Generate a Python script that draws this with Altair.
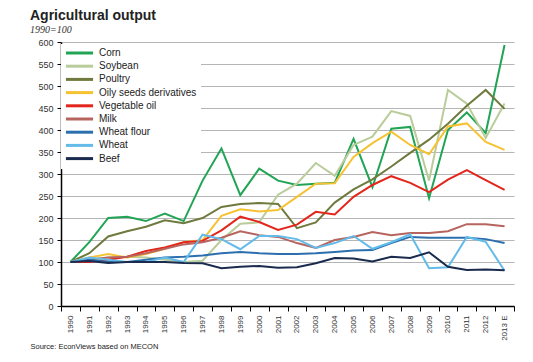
import altair as alt
import pandas as pd

years = ["1990", "1991", "1992", "1993", "1994", "1995", "1996", "1997", "1998", "1999",
         "2000", "2001", "2002", "2003", "2004", "2005", "2006", "2007", "2008", "2009",
         "2010", "2011", "2012", "2013 E"]

series_names = ["Corn", "Soybean", "Poultry", "Oily seeds derivatives", "Vegetable oil",
                "Milk", "Wheat flour", "Wheat", "Beef"]
series_colors = ["#22a455", "#b9cc9a", "#6e7a3e", "#f6c232", "#e3261c",
                 "#b8645e", "#2c6fae", "#62bbe8", "#1a2b4e"]

corn = [100, 145, 200, 203, 193, 210, 193, 285, 358, 252, 312, 285, 275, 278, 280, 380,
        270, 403, 407, 245, 400, 440, 393, 593]
soybean = [100, 105, 110, 112, 110, 105, 100, 103, 150, 187, 190, 253, 278, 325, 296, 366,
           385, 443, 432, 285, 491, 460, 382, 460]
poultry = [100, 120, 158, 170, 180, 195, 188, 200, 225, 232, 234, 232, 177, 190, 235, 265,
           288, 317, 348, 378, 414, 455, 491, 448]
oily_seeds = [100, 110, 118, 110, 118, 130, 145, 150, 205, 220, 215, 218, 248, 278, 279, 339,
              370, 396, 366, 345, 408, 415, 373, 355]
vegetable_oil = [100, 100, 105, 112, 125, 133, 145, 148, 172, 203, 191, 173, 185, 214, 208, 248,
                 275, 295, 280, 259, 287, 309, 286, 264]
milk = [100, 105, 110, 112, 120, 130, 140, 145, 155, 170, 161, 157, 143, 132, 150, 157,
        168, 161, 166, 166, 170, 186, 186, 181]
wheat_flour = [100, 105, 100, 100, 105, 110, 112, 115, 120, 123, 120, 118, 118, 120, 123, 126,
               127, 143, 157, 155, 155, 155, 152, 143]
wheat = [100, 110, 105, 100, 100, 110, 100, 162, 152, 129, 159, 159, 152, 132, 143, 159,
         130, 145, 163, 86, 88, 157, 146, 80]
beef = [100, 102, 98, 100, 100, 100, 98, 97, 86, 89, 91, 87, 88, 97, 109, 108,
        101, 112, 109, 122, 89, 82, 83, 81]

all_series = [corn, soybean, poultry, oily_seeds, vegetable_oil, milk, wheat_flour, wheat, beef]

rows = []
for name, vals in zip(series_names, all_series):
    for y, v in zip(years, vals):
        rows.append({"year": y, "series": name, "value": v})
df = pd.DataFrame(rows)

FONT = "Liberation Sans"

chart = alt.Chart(df).mark_line(strokeWidth=2).encode(
    x=alt.X("year:O", sort=years, bandPosition=0.5,
            scale=alt.Scale(type="band", paddingInner=0, paddingOuter=0),
            axis=alt.Axis(title="Source: EconViews based on MECON", labelAngle=-90,
                          labelFont=FONT, labelFontSize=8, labelColor="#333333",
                          labelPadding=4, tickBand="extent", tickColor="#000000",
                          tickSize=5, domainColor="#000000", domainWidth=1.5,
                          grid=False, titleFont=FONT, titleFontSize=7.5,
                          titleFontWeight="normal", titleColor="#222222",
                          titleAnchor="start", titleAlign="left", titleX=-31, titleY=42,
                          titleBaseline="alphabetic")),
    y=alt.Y("value:Q", scale=alt.Scale(domain=[0, 600], nice=False),
            axis=alt.Axis(title=None, values=list(range(0, 601, 50)), labelFont=FONT,
                          labelFontSize=9, labelColor="#333333", labelPadding=4,
                          tickColor="#000000", tickSize=4, domainColor="#000000",
                          domainWidth=1.5, gridColor="#b5b5b5", gridWidth=1)),
    color=alt.Color("series:N", sort=series_names,
                    scale=alt.Scale(domain=series_names, range=series_colors),
                    legend=alt.Legend(title=None, orient="none", legendX=0, legendY=2,
                                      fillColor="white", symbolType="M-4,0H4",
                                      symbolStrokeWidth=3, symbolSize=46,
                                      symbolOffset=9.5,
                                      labelFont=FONT, labelFontSize=10,
                                      labelColor="#222222", rowPadding=1.2,
                                      padding=4, labelOffset=14.5)),
).properties(
    width=453,
    height=264,
    autosize=alt.AutoSizeParams(type="none"),
    padding={"left": 53, "top": 34, "right": 10, "bottom": 50},
    title=alt.TitleParams(text="Agricultural output", subtitle="1990=100",
                          anchor="start", frame="group", dx=-31, offset=3,
                          font=FONT, fontSize=14, fontWeight="bold", color="#222222",
                          subtitleFont="Liberation Serif", subtitleFontStyle="italic",
                          subtitleFontSize=10, subtitleColor="#333333",
                          subtitlePadding=2),
).configure_view(stroke=None)

chart.save("out.html", embed_options={"renderer": "svg", "actions": False})
